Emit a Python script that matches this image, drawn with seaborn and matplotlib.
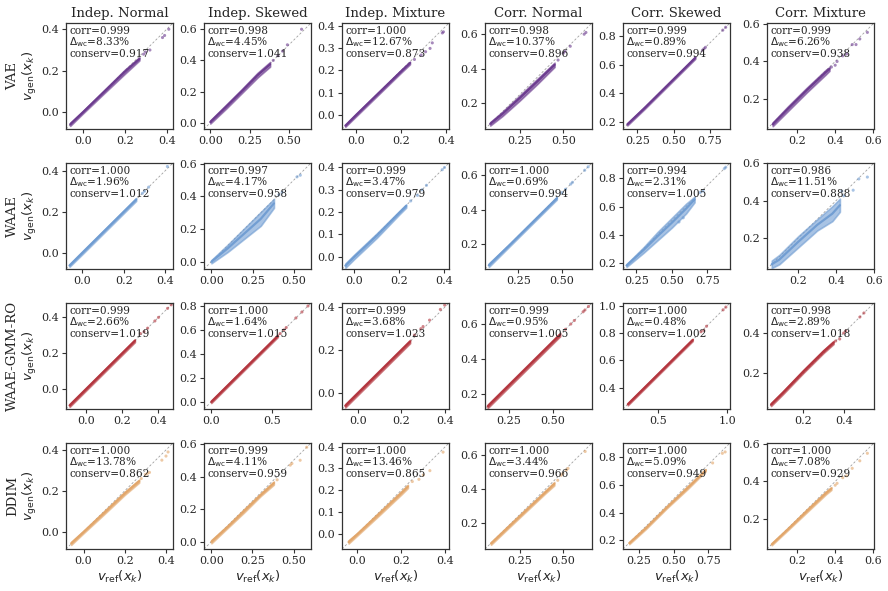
import numpy as np
import pandas as pd
import matplotlib
matplotlib.use("Agg")
import matplotlib.pyplot as plt
import seaborn as sns

sns.set_style("ticks")
plt.rcParams["font.family"] = ["DejaVu Serif"]
plt.rcParams["mathtext.fontset"] = "dejavusans"

models = ["VAE", "WAAE", "WAAE-GMM-RO", "DDIM"]
datasets = ["Indep. Normal", "Indep. Skewed", "Indep. Mixture",
            "Corr. Normal", "Corr. Skewed", "Corr. Mixture"]
colors = ["#6B3A8E", "#6F9CD2", "#B3343D", "#E2A66A"]

# metrics per model (rows) x dataset (cols)
corr = [["0.999", "0.998", "1.000", "0.998", "0.999", "0.999"],
        ["1.000", "0.997", "0.999", "1.000", "0.994", "0.986"],
        ["0.999", "1.000", "0.999", "0.999", "1.000", "0.998"],
        ["1.000", "0.999", "1.000", "1.000", "1.000", "1.000"]]
dwc = [["8.33", "4.45", "12.67", "10.37", "0.89", "6.26"],
       ["1.96", "4.17", "3.47", "0.69", "2.31", "11.51"],
       ["2.66", "1.64", "3.68", "0.95", "0.48", "2.89"],
       ["13.78", "4.11", "13.46", "3.44", "5.09", "7.08"]]
conserv = [["0.917", "1.041", "0.873", "0.896", "0.994", "0.938"],
           ["1.012", "0.958", "0.979", "0.994", "1.005", "0.888"],
           ["1.019", "1.015", "1.023", "1.005", "1.002", "1.018"],
           ["0.862", "0.959", "0.865", "0.966", "0.949", "0.929"]]

# axis limits (same for x and y)
limits = [[(-0.08, 0.43), (-0.04, 0.64), (-0.065, 0.415), (0.05, 0.665), (0.15, 0.89), (0.04, 0.605)],
          [(-0.077, 0.437), (-0.045, 0.605), (-0.055, 0.42), (0.058, 0.672), (0.155, 0.91), (0.035, 0.60)],
          [(-0.11, 0.48), (-0.06, 0.825), (-0.075, 0.42), (0.115, 0.72), (0.245, 1.02), (0.02, 0.55)],
          [(-0.085, 0.434), (-0.045, 0.606), (-0.07, 0.417), (0.045, 0.67), (0.135, 0.905), (0.04, 0.605)]]

# tick values per dataset column (rows share them except WAAE-GMM-RO)
xticks_std = [[0, 0.2, 0.4], [0, 0.25, 0.5], [0, 0.2, 0.4], [0.25, 0.5], [0.25, 0.5, 0.75], [0.2, 0.4, 0.6]]
yticks_std = [[0, 0.2, 0.4], [0, 0.2, 0.4, 0.6], [0, 0.1, 0.2, 0.3, 0.4], [0.2, 0.4, 0.6], [0.2, 0.4, 0.6, 0.8], [0.2, 0.4, 0.6]]
xticks_gmm = [[0, 0.2, 0.4], [0, 0.5], [0, 0.2, 0.4], [0.25, 0.5], [0.5, 1.0], [0.2, 0.4]]
yticks_gmm = [[0, 0.2, 0.4], [0, 0.2, 0.4, 0.6, 0.8], [0, 0.2, 0.4], [0.2, 0.4, 0.6], [0.4, 0.6, 0.8, 1.0], [0.2, 0.4]]

# dense core of each scatter: reference value nodes, lower / upper generated values
band_x = [[[-0.06, 0.0, 0.1, 0.2, 0.27], [0.0, 0.1, 0.2, 0.3, 0.38], [-0.05, 0.0, 0.1, 0.2, 0.24],
           [0.08, 0.15, 0.25, 0.35, 0.45], [0.18, 0.3, 0.45, 0.6, 0.65], [0.07, 0.15, 0.25, 0.35, 0.37]],
          [[-0.06, 0.0, 0.1, 0.2, 0.26], [0.0, 0.1, 0.2, 0.3, 0.38], [-0.04, 0.0, 0.1, 0.2, 0.23],
           [0.08, 0.2, 0.3, 0.4, 0.47], [0.18, 0.3, 0.4, 0.5, 0.6, 0.66], [0.06, 0.1, 0.2, 0.3, 0.38, 0.42]],
          [[-0.09, 0.0, 0.1, 0.2, 0.27], [0.0, 0.2, 0.4, 0.55], [-0.06, 0.0, 0.1, 0.2, 0.24],
           [0.13, 0.2, 0.3, 0.4, 0.5, 0.54], [0.28, 0.4, 0.6, 0.75], [0.04, 0.1, 0.2, 0.3, 0.35]],
          [[-0.06, 0.0, 0.1, 0.2, 0.27], [0.0, 0.1, 0.2, 0.3, 0.38], [-0.04, 0.0, 0.1, 0.2, 0.23],
           [0.08, 0.2, 0.3, 0.4, 0.45], [0.18, 0.3, 0.45, 0.6, 0.7, 0.73], [0.065, 0.15, 0.25, 0.35, 0.38]]]
band_lo = [[[-0.065, -0.006, 0.09, 0.185, 0.25], [-0.005, 0.09, 0.19, 0.29, 0.36], [-0.055, -0.006, 0.092, 0.19, 0.228],
            [0.07, 0.125, 0.215, 0.31, 0.41], [0.175, 0.29, 0.44, 0.59, 0.64], [0.055, 0.135, 0.235, 0.33, 0.35]],
           [[-0.066, -0.007, 0.093, 0.193, 0.253], [-0.01, 0.06, 0.14, 0.22, 0.33], [-0.05, -0.01, 0.085, 0.19, 0.22],
            [0.07, 0.19, 0.29, 0.39, 0.46], [0.17, 0.27, 0.36, 0.45, 0.55, 0.63], [0.04, 0.06, 0.15, 0.24, 0.29, 0.34]],
           [[-0.098, -0.008, 0.092, 0.192, 0.262], [-0.01, 0.19, 0.39, 0.54], [-0.068, -0.008, 0.092, 0.192, 0.232],
            [0.12, 0.19, 0.29, 0.39, 0.49, 0.53], [0.272, 0.392, 0.592, 0.742], [0.035, 0.095, 0.2, 0.3, 0.345]],
           [[-0.065, -0.008, 0.085, 0.18, 0.24], [-0.01, 0.085, 0.18, 0.28, 0.35], [-0.045, -0.008, 0.085, 0.18, 0.21],
            [0.07, 0.185, 0.28, 0.375, 0.42], [0.17, 0.28, 0.43, 0.57, 0.67, 0.70], [0.06, 0.14, 0.235, 0.33, 0.355]]]
band_hi = [[[-0.05, 0.006, 0.105, 0.205, 0.265], [0.015, 0.115, 0.215, 0.32, 0.39], [-0.045, 0.006, 0.104, 0.202, 0.24],
            [0.09, 0.15, 0.245, 0.34, 0.435], [0.19, 0.305, 0.455, 0.605, 0.655], [0.075, 0.16, 0.26, 0.355, 0.37]],
           [[-0.054, 0.007, 0.107, 0.207, 0.267], [0.01, 0.105, 0.205, 0.305, 0.385], [-0.03, 0.01, 0.105, 0.205, 0.235],
            [0.09, 0.205, 0.305, 0.405, 0.475], [0.19, 0.31, 0.42, 0.52, 0.62, 0.67], [0.08, 0.11, 0.21, 0.30, 0.37, 0.41]],
           [[-0.082, 0.008, 0.108, 0.208, 0.278], [0.01, 0.21, 0.41, 0.56], [-0.052, 0.008, 0.108, 0.208, 0.248],
            [0.14, 0.21, 0.31, 0.41, 0.51, 0.55], [0.288, 0.408, 0.608, 0.758], [0.05, 0.11, 0.215, 0.315, 0.36]],
           [[-0.05, 0.004, 0.1, 0.195, 0.255], [0.01, 0.1, 0.2, 0.295, 0.37], [-0.03, 0.004, 0.1, 0.195, 0.225],
            [0.085, 0.2, 0.295, 0.39, 0.44], [0.185, 0.295, 0.445, 0.59, 0.685, 0.715], [0.07, 0.15, 0.25, 0.345, 0.37]]]

# sparse points in the upper tail
tail_x = [[[0.29, 0.30, 0.32, 0.38, 0.39, 0.41], [0.40, 0.43, 0.46, 0.49, 0.58], [0.26, 0.29, 0.31, 0.33, 0.34, 0.385, 0.39],
           [0.47, 0.50, 0.51, 0.54, 0.62, 0.63], [0.70, 0.71, 0.72, 0.84, 0.86], [0.38, 0.40, 0.41, 0.44, 0.46, 0.49, 0.51, 0.53, 0.57]],
          [[0.29, 0.30, 0.32, 0.41], [0.41, 0.43, 0.52, 0.54], [0.25, 0.28, 0.30, 0.32, 0.39, 0.40],
           [0.50, 0.52, 0.55, 0.56, 0.63, 0.65], [0.55, 0.58, 0.70, 0.72, 0.87, 0.88], [0.43, 0.44, 0.49, 0.52, 0.565]],
          [[0.30, 0.32, 0.34, 0.38, 0.40, 0.45, 0.47], [0.57, 0.60, 0.62, 0.70, 0.75, 0.80], [0.26, 0.29, 0.30, 0.33, 0.38, 0.40],
           [0.57, 0.60, 0.62, 0.67, 0.68, 0.70], [0.81, 0.83, 0.85, 0.97, 0.99], [0.36, 0.38, 0.40, 0.41, 0.48, 0.50]],
          [[0.28, 0.30, 0.31, 0.32, 0.38, 0.40, 0.41], [0.40, 0.48, 0.49, 0.54, 0.58], [0.25, 0.28, 0.30, 0.33, 0.39],
           [0.47, 0.49, 0.50, 0.52, 0.53, 0.63], [0.78, 0.85, 0.87], [0.40, 0.41, 0.44, 0.46, 0.49, 0.53, 0.57]]]
tail_y = [[[0.28, 0.29, 0.30, 0.36, 0.37, 0.40], [0.40, 0.43, 0.46, 0.50, 0.60], [0.25, 0.27, 0.285, 0.30, 0.325, 0.37, 0.375],
           [0.45, 0.49, 0.50, 0.53, 0.60, 0.61], [0.70, 0.71, 0.72, 0.84, 0.86], [0.37, 0.38, 0.40, 0.43, 0.44, 0.49, 0.49, 0.52, 0.555]],
          [[0.29, 0.30, 0.32, 0.42], [0.41, 0.425, 0.52, 0.53], [0.25, 0.275, 0.30, 0.32, 0.39, 0.40],
           [0.50, 0.52, 0.55, 0.56, 0.63, 0.65], [0.49, 0.52, 0.70, 0.71, 0.87, 0.88], [0.45, 0.425, 0.455, 0.515, 0.525]],
          [[0.31, 0.32, 0.34, 0.38, 0.40, 0.45, 0.47], [0.57, 0.60, 0.62, 0.70, 0.75, 0.80], [0.27, 0.30, 0.31, 0.34, 0.39, 0.41],
           [0.57, 0.60, 0.62, 0.67, 0.68, 0.70], [0.81, 0.82, 0.85, 0.97, 0.99], [0.36, 0.37, 0.40, 0.41, 0.48, 0.50]],
          [[0.26, 0.28, 0.285, 0.29, 0.35, 0.37, 0.39], [0.38, 0.47, 0.48, 0.50, 0.58], [0.24, 0.25, 0.27, 0.29, 0.375],
           [0.45, 0.48, 0.49, 0.51, 0.52, 0.62], [0.76, 0.83, 0.84], [0.38, 0.39, 0.42, 0.43, 0.47, 0.51, 0.55]]]

W, H = 888, 591
fig = plt.figure(figsize=(W / 100, H / 100), dpi=100)
col_left = [66, 204, 342, 485, 623, 767]
row_top = [23, 163, 303, 443]
aw, ah = 107, 106

for i, model in enumerate(models):
    for j, ds in enumerate(datasets):
        ax = fig.add_axes([col_left[j] / W, 1 - (row_top[i] + ah) / H, aw / W, ah / H])
        lo, hi = limits[i][j]
        bx = band_x[i][j]
        band = pd.DataFrame({"ref": bx + bx, "gen": band_lo[i][j] + band_hi[i][j]})
        sns.lineplot(data=band, x="ref", y="gen", ax=ax, color=colors[i], lw=1.6, alpha=0.95,
                     estimator="mean", errorbar=("pi", 100),
                     err_kws={"alpha": 0.6, "linewidth": 1.2, "edgecolor": colors[i]})
        tail = pd.DataFrame({"ref": tail_x[i][j], "gen": tail_y[i][j]})
        sns.scatterplot(data=tail, x="ref", y="gen", ax=ax, color=colors[i], s=5, alpha=0.6,
                        edgecolor="none")
        ax.plot([lo, hi], [lo, hi], ls=(0, (3, 2.5)), color="#999999", lw=0.55, zorder=0)
        ax.set_xlim(lo, hi)
        ax.set_ylim(lo, hi)
        if i == 2:
            ax.set_xticks(xticks_gmm[j])
            ax.set_yticks(yticks_gmm[j])
        else:
            ax.set_xticks(xticks_std[j])
            ax.set_yticks(yticks_std[j])
        for s in ax.spines.values():
            s.set_color("#333333")
            s.set_linewidth(0.9)
        ax.tick_params(labelsize=8, length=3, width=0.8, color="#333333", pad=2)
        ax.text(0.03, 0.975,
                f"corr={corr[i][j]}\n$\\Delta_{{\\rm wc}}$={dwc[i][j]}%\nconserv={conserv[i][j]}",
                transform=ax.transAxes, va="top", ha="left", fontsize=7.6, linespacing=1.0)
        if i == 0:
            ax.set_title(ds, fontsize=9.5, pad=4)
        if j == 0:
            ax.set_ylabel(r"$v_{\rm gen}(x_k)$", fontsize=9.5, labelpad=2)
            ax.text(-0.5, 0.5, model, transform=ax.transAxes, rotation=90,
                    ha="center", va="center", fontsize=9.5)
        else:
            ax.set_ylabel("")
        if i == len(models) - 1:
            ax.set_xlabel(r"$v_{\rm ref}(x_k)$", fontsize=9.5, labelpad=2)
        else:
            ax.set_xlabel("")

fig.savefig("out.png", dpi=100)
